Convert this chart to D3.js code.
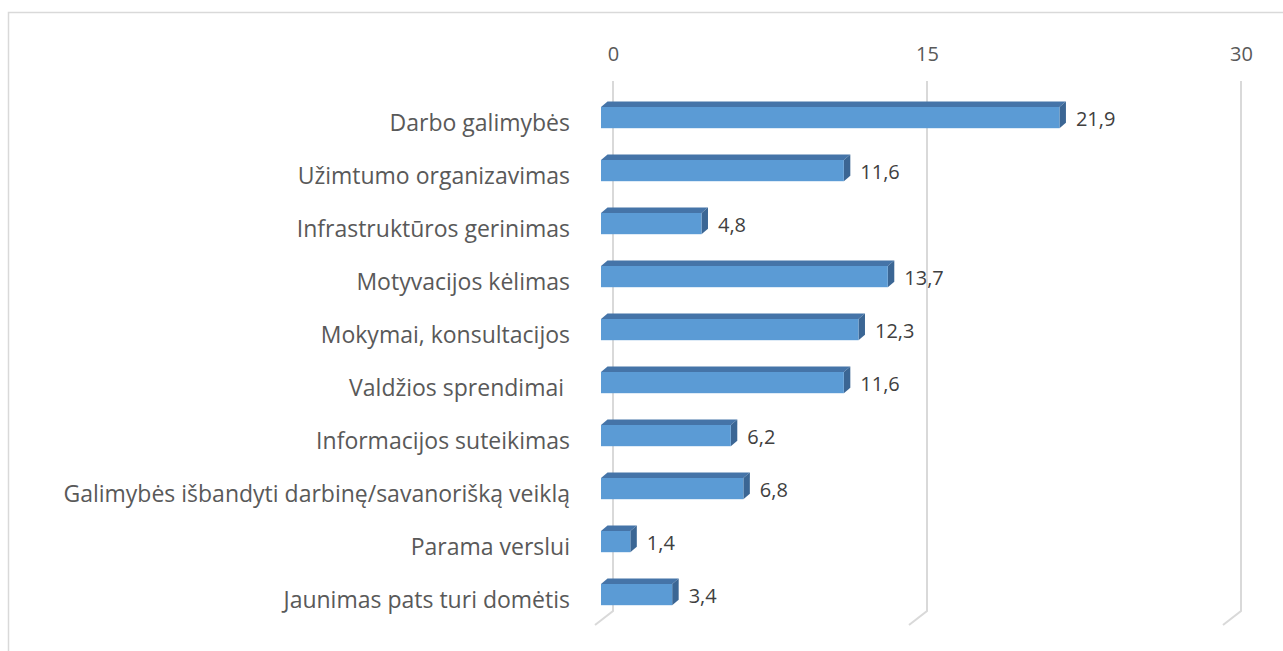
<!DOCTYPE html>
<html>
<head>
<meta charset="utf-8">
<script src="https://cdn.jsdelivr.net/npm/d3@7"></script>
<style>
  html, body { margin: 0; padding: 0; background: #fff; }
  svg { display: block; font-family: "Open Sans", Lato, sans-serif; }
</style>
</head>
<body>
<div id="chart"></div>
<script>
// categories top to bottom, values in %
const categories = [
    "Darbo galimybės",
    "Užimtumo organizavimas",
    "Infrastruktūros gerinimas",
    "Motyvacijos kėlimas",
    "Mokymai, konsultacijos",
    "Valdžios sprendimai ",
    "Informacijos suteikimas",
    "Galimybės išbandyti darbinę/savanorišką veiklą",
    "Parama verslui",
    "Jaunimas pats turi domėtis"
];
const values = [21.9, 11.6, 4.8, 13.7, 12.3, 11.6, 6.2, 6.8, 1.4, 3.4];
const valueLabels = ["21,9", "11,6", "4,8", "13,7", "12,3", "11,6", "6,2", "6,8", "1,4", "3,4"];
const tickValues = [0, 15, 30];

const W = 1283, H = 651;

const svg = d3.select("#chart")
    .append("svg")
    .attr("width", W)
    .attr("height", H);

// chart border (right/bottom edge run off the picture)
svg.append("rect")
    .attr("x", 8.5)
    .attr("y", 12.5)
    .attr("width", 1300)
    .attr("height", 700)
    .style("fill", "none")
    .style("stroke", "#d9d9d9")
    .style("stroke-width", 1.5);

// value scale on the back wall
const x = d3.scaleLinear()
    .domain([0, 30])
    .range([613, 1241]);

// 3D offsets
const frontShift = -12;      // bar front face vs back wall
const depthX = 6.5, depthY = -5.5;   // bar depth
const floorX = -18, floorY = 14;     // floor diagonal
const wallTop = 81, wallBottom = 611;

const y = d3.scaleBand()
    .domain(categories)
    .range([75.2, 637])
    .padding(0.6);

// gridlines with floor diagonal
svg.append("g")
    .selectAll("path")
    .data(tickValues)
    .enter()
    .append("path")
    .attr("d", d => `M${x(d)},${wallTop}L${x(d)},${wallBottom}L${x(d) + floorX},${wallBottom + floorY}`)
    .style("fill", "none")
    .style("stroke", "#d9d9d9")
    .style("stroke-width", 2);

// tick labels on top
const axis = svg.append("g")
    .attr("transform", "translate(0,61)")
    .call(d3.axisTop(x).tickValues(tickValues).tickSize(0).tickPadding(0).tickFormat(d3.format("d")));
axis.select(".domain").remove();
axis.selectAll("text")
    .attr("dy", 0)
    .style("font-family", "'Open Sans', Lato, sans-serif")
    .style("font-size", "20px")
    .style("fill", "#595959");

// category labels
svg.append("g")
    .selectAll("text")
    .data(categories)
    .enter()
    .append("text")
    .attr("x", 570)
    .attr("y", d => y(d) + y.bandwidth() / 2 + 13.5)
    .attr("text-anchor", "end")
    .style("font-size", "23px")
    .style("fill", "#595959")
    .style("white-space", "pre")
    .text(d => d);

// bars
const bars = svg.append("g")
    .selectAll("g")
    .data(categories.map((c, i) => ({cat: c, v: values[i], label: valueLabels[i]})))
    .enter()
    .append("g");

const fx0 = x(0) + frontShift;

bars.append("path") // top face
    .attr("d", d => {
        const t = y(d.cat), x1 = x(d.v) + frontShift;
        return `M${fx0},${t}L${fx0 + depthX},${t + depthY}L${x1 + depthX},${t + depthY}L${x1},${t}Z`;
    })
    .style("fill", "#4574a8");

bars.append("path") // side face
    .attr("d", d => {
        const t = y(d.cat), b = t + y.bandwidth(), x1 = x(d.v) + frontShift;
        return `M${x1},${t}L${x1 + depthX},${t + depthY}L${x1 + depthX},${b + depthY}L${x1},${b}Z`;
    })
    .style("fill", "#3b6694");

bars.append("rect") // front face
    .attr("x", fx0)
    .attr("y", d => y(d.cat))
    .attr("width", d => x(d.v) - x(0))
    .attr("height", y.bandwidth())
    .style("fill", "#5b9bd5");

// value labels
bars.append("text")
    .attr("x", d => x(d.v) + frontShift + depthX + 10)
    .attr("y", d => y(d.cat) + y.bandwidth() / 2 + 8.5)
    .style("font-size", "20px")
    .style("fill", "#404040")
    .text(d => d.label);
</script>
</body>
</html>
